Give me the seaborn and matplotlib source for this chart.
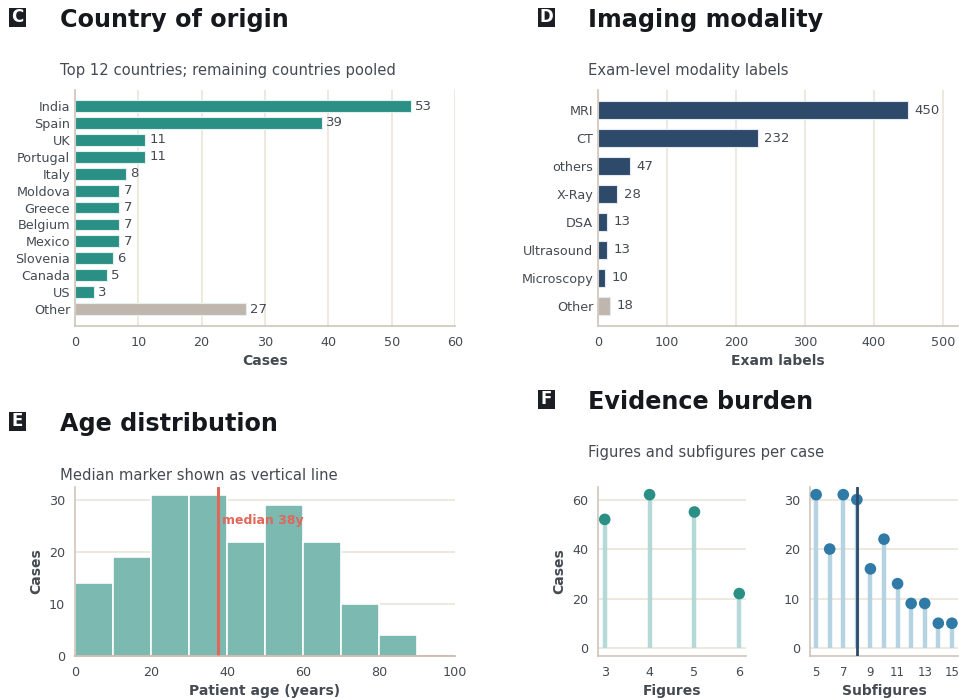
import numpy as np
import pandas as pd
import seaborn as sns
import matplotlib.pyplot as plt
from matplotlib.patches import Rectangle

# ---- data -----------------------------------------------------------------
countries = ["India", "Spain", "UK", "Portugal", "Italy", "Moldova", "Greece",
             "Belgium", "Mexico", "Slovenia", "Canada", "US", "Other"]
country_cases = [53, 39, 11, 11, 8, 7, 7, 7, 7, 6, 5, 3, 27]

modalities = ["MRI", "CT", "others", "X-Ray", "DSA", "Ultrasound", "Microscopy", "Other"]
modality_counts = [450, 232, 47, 28, 13, 13, 10, 18]

age_edges = [0, 10, 20, 30, 40, 50, 60, 70, 80, 90]
age_counts = [14, 19, 31, 31, 22, 29, 22, 10, 4]
age_median = 37.5

figures_per_case = [3, 4, 5, 6]
figures_cases = [52, 62, 55, 22]

subfigures_per_case = [5, 6, 7, 8, 9, 10, 11, 12, 13, 14, 15]
subfigures_cases = [31, 20, 31, 30, 16, 22, 13, 9, 9, 5, 5]
subfigures_median = 8

# ---- style ----------------------------------------------------------------
TEAL = "#2a9085"
TEAL_LIGHT = "#7bb9b1"
TEAL_STEM = "#b4d9d6"
NAVY = "#2e4a6b"
BLUE = "#2f7aa6"
BLUE_STEM = "#b6d3e2"
GREY_BAR = "#bfb7ad"
RED = "#e0675a"
GRID = "#ebe4d9"
SPINE = "#cfc5ba"
TEXT = "#444a52"
TITLE = "#15181c"

TICK_FS = 9.2
LABEL_FS = 10

sns.set_theme(style="white")
plt.rcParams.update({
    "font.family": ["DejaVu Sans"],
    "axes.edgecolor": SPINE,
    "axes.labelcolor": TEXT,
    "xtick.color": TEXT,
    "ytick.color": TEXT,
    "xtick.labelcolor": TEXT,
    "ytick.labelcolor": TEXT,
    "axes.linewidth": 1.2,
    "axes.labelpad": 4,
})

fig = plt.figure(figsize=(9.59, 6.98), dpi=100)
W, H = 959.0, 698.0


def ax_px(left, right, top, bottom):
    return fig.add_axes([left / W, 1 - bottom / H, (right - left) / W, (bottom - top) / H])


def header(letter, x_box, y_box, title, sub, x_title, y_title, y_sub):
    fig.patches.append(Rectangle((x_box / W, 1 - (y_box + 19) / H), 17 / W, 19 / H,
                                 transform=fig.transFigure, facecolor="#1b1e22",
                                 edgecolor="none", zorder=5))
    fig.text((x_box + 8.5) / W, 1 - (y_box + 9.5) / H, letter, color="white",
             fontsize=12, fontweight="bold", ha="center", va="center", zorder=6)
    fig.text(x_title / W, 1 - y_title / H, title, fontsize=17.2, fontweight="bold",
             color=TITLE, ha="left", va="center")
    fig.text(x_title / W, 1 - y_sub / H, sub, fontsize=10.6, color=TEXT,
             ha="left", va="center")


def style_axes(ax, grid_axis):
    sns.despine(ax=ax)
    ax.grid(axis=grid_axis, color=GRID, linewidth=1.2)
    ax.set_axisbelow(True)
    ax.tick_params(axis="both", labelsize=TICK_FS, length=3.5, color=TEXT,
                   width=1, pad=3.5)


# ---- C: country of origin ----------------------------------------------------
axC = ax_px(75, 455, 90, 326)
dfC = pd.DataFrame({"country": countries, "cases": country_cases})
palC = [TEAL] * (len(countries) - 1) + [GREY_BAR]
sns.barplot(data=dfC, y="country", x="cases", hue="country", palette=palC,
            legend=False, width=0.7, edgecolor="#e3f0ee", linewidth=0.8,
            saturation=1, orient="h", ax=axC)
for i, v in enumerate(country_cases):
    axC.text(v + 0.7, i, str(v), va="center", ha="left", fontsize=9.5, color=TEXT)
axC.set_xlim(0, 60)
axC.set_ylim(len(countries) - 1 + 1.0, -0.95)
axC.set_xticks(range(0, 61, 10))
axC.set_ylabel("")
axC.set_xlabel("Cases", fontsize=LABEL_FS, fontweight="bold")
style_axes(axC, "x")
axC.tick_params(axis="y", length=0)
header("C", 9, 8, "Country of origin", "Top 12 countries; remaining countries pooled",
       60, 20, 71)

# ---- D: imaging modality -----------------------------------------------------
axD = ax_px(598, 958, 90, 326)
dfD = pd.DataFrame({"modality": modalities, "count": modality_counts})
palD = [NAVY] * (len(modalities) - 1) + [GREY_BAR]
sns.barplot(data=dfD, y="modality", x="count", hue="modality", palette=palD,
            legend=False, width=0.65, edgecolor="#e3e9ef", linewidth=0.8,
            saturation=1, orient="h", ax=axD)
for i, v in enumerate(modality_counts):
    axD.text(v + 9, i, str(v), va="center", ha="left", fontsize=9.5, color=TEXT)
axD.set_xlim(0, max(modality_counts) * 1.16)
axD.set_ylim(len(modalities) - 1 + 0.72, -0.72)
axD.set_xticks(range(0, 501, 100))
axD.set_ylabel("")
axD.set_xlabel("Exam labels", fontsize=LABEL_FS, fontweight="bold")
style_axes(axD, "x")
axD.tick_params(axis="y", length=0)
header("D", 538, 8, "Imaging modality", "Exam-level modality labels", 588, 20, 71)

# ---- E: age distribution -----------------------------------------------------
axE = ax_px(75, 455, 487, 656)
centers = [(a + b) / 2 for a, b in zip(age_edges[:-1], age_edges[1:])]
sns.histplot(x=centers, weights=age_counts, bins=age_edges, color=TEAL_LIGHT,
             alpha=1.0, edgecolor="white", linewidth=1.2, ax=axE)
ymaxE = max(age_counts) * 1.05
axE.set_ylim(0, ymaxE)
axE.set_xlim(0, 100)
axE.axvline(age_median, color=RED, linewidth=2.2)
axE.text(age_median + 1.3, ymaxE * 0.8, f"median {age_median:.0f}y", color=RED,
         fontsize=9, fontweight="bold", ha="left", va="center")
axE.set_xlabel("Patient age (years)", fontsize=LABEL_FS, fontweight="bold")
axE.set_ylabel("Cases", fontsize=LABEL_FS, fontweight="bold")
style_axes(axE, "y")
axE.spines["bottom"].set_color("#c9b3a8")
header("E", 9, 412, "Age distribution", "Median marker shown as vertical line",
       60, 424, 475)

# ---- F: evidence burden --------------------------------------------------------
def lollipop(ax, xs, ys, stem_color, dot_color):
    for x, y in zip(xs, ys):
        ax.plot([x, x], [0, y], color=stem_color, linewidth=3.2, solid_capstyle="butt",
                zorder=2)
    sns.scatterplot(x=xs, y=ys, color=dot_color, s=70, edgecolor="none", zorder=3,
                    ax=ax)
    ymax = max(ys) * 1.05
    ax.set_ylim(-ymax * 0.05, ymax)


axF1 = ax_px(598, 746, 487, 656)
lollipop(axF1, figures_per_case, figures_cases, TEAL_STEM, TEAL)
axF1.set_xlim(2.85, 6.15)
axF1.set_xticks(figures_per_case)
axF1.set_yticks([0, 20, 40, 60])
axF1.set_xlabel("Figures", fontsize=LABEL_FS, fontweight="bold")
axF1.set_ylabel("Cases", fontsize=LABEL_FS, fontweight="bold")
style_axes(axF1, "y")

axF2 = ax_px(810, 958, 487, 656)
lollipop(axF2, subfigures_per_case, subfigures_cases, BLUE_STEM, BLUE)
axF2.axvline(subfigures_median, color=NAVY, linewidth=2, zorder=4)
axF2.set_xlim(4.55, 15.45)
axF2.set_xticks(subfigures_per_case[::2])
axF2.set_yticks([0, 10, 20, 30])
axF2.set_xlabel("Subfigures", fontsize=LABEL_FS, fontweight="bold")
axF2.set_ylabel("")
style_axes(axF2, "y")
axF2.tick_params(axis="x", labelsize=8.5)
header("F", 538, 390, "Evidence burden", "Figures and subfigures per case", 588, 402, 453)

fig.savefig("out.png", dpi=100, facecolor="white")
